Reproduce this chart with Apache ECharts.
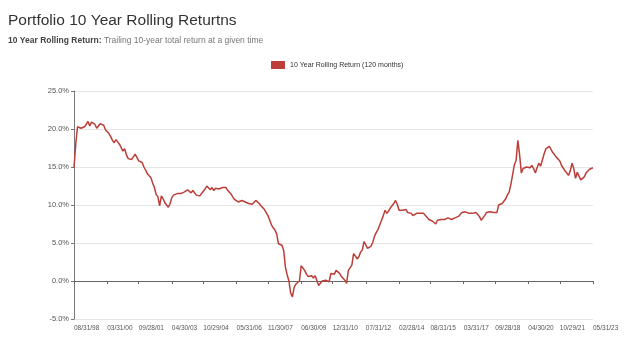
<!DOCTYPE html>
<html>
<head>
<meta charset="utf-8">
<script src="https://cdn.jsdelivr.net/npm/echarts@6/dist/echarts.min.js"></script>
<style>
html,body{margin:0;padding:0;background:#fff;}
#chart{width:630px;height:337px;}
</style>
</head>
<body>
<div id="chart"></div>
<script>
// Tick labels shown on the x axis
var tickLabels = ['08/31/98','03/31/00','09/28/01','04/30/03','10/29/04','05/31/06','11/30/07','06/30/09','12/31/10','07/31/12','02/28/14','08/31/15','03/31/17','09/28/18','04/30/20','10/29/21','05/31/23'];

// Y axis tick values (%)
var yTicks = [-5, 0, 5, 10, 15, 20, 25];

// 10 Year Rolling Return (%), monthly from 08/1998 to 05/2023
var rollingReturn = [
14.9,18.0,20.3,20.2,20.1,20.0,20.3,20.6,21.0,20.4,
20.9,21.0,20.6,20.1,20.2,20.7,20.8,20.5,19.9,20.1,
19.4,19.0,18.5,18.2,18.6,18.4,18.0,17.8,17.1,17.4,
16.6,16.1,16.0,16.0,16.0,16.7,16.5,15.8,15.7,15.6,
15.0,14.6,14.1,14.3,13.6,12.9,12.3,11.4,11.1,9.9,
11.2,10.8,10.3,10.0,9.7,10.2,11.0,11.3,11.4,11.5,
11.6,11.5,11.6,11.7,11.9,12.0,11.9,11.6,11.9,11.7,
11.3,11.2,11.2,11.4,11.8,12.1,12.5,12.4,12.0,12.3,
11.9,12.2,12.1,12.1,12.2,12.3,12.5,12.3,11.9,11.7,
11.4,11.0,10.7,10.5,10.4,10.4,10.6,10.5,10.4,10.3,
10.2,10.0,10.1,10.3,10.6,10.6,10.2,9.9,9.8,9.4,
9.0,8.6,8.0,7.4,7.0,6.7,6.2,4.9,5.1,4.7,
4.0,1.8,0.8,0.0,-1.6,-2.1,-0.8,-0.4,-0.3,0.0,
2.0,1.9,1.4,0.9,0.6,0.7,0.7,0.4,0.7,0.6,
-0.6,-0.3,0.0,-0.1,0.1,0.2,-0.1,1.0,0.8,0.9,
1.4,1.2,1.0,0.6,0.4,0.1,-0.3,1.4,1.6,2.1,
3.6,3.3,2.9,3.2,3.8,4.1,5.2,5.2,4.3,4.3,
4.6,5.1,5.9,6.4,6.8,7.4,8.0,8.6,9.3,8.9,
9.2,9.6,9.9,10.2,10.6,10.1,9.3,9.2,9.3,9.1,
9.4,9.0,8.9,8.9,8.6,8.7,8.9,8.9,8.9,8.9,
8.9,9.0,8.4,8.1,8.0,7.9,7.7,7.5,8.0,8.1,
8.1,8.0,8.1,8.0,8.3,8.4,8.1,8.2,8.3,8.5,
8.5,8.7,9.0,9.1,9.1,8.9,8.9,8.8,8.9,9.0,
9.0,9.0,8.5,8.0,8.2,8.6,9.0,9.1,9.1,9.0,
9.0,9.2,9.0,10.0,10.0,10.2,10.5,10.8,11.3,11.7,
12.7,14.0,15.3,15.9,18.5,16.6,14.2,14.8,14.8,15.0,
14.8,14.9,15.2,14.8,14.2,14.9,15.5,15.1,15.3,16.7,
17.4,17.2,17.7,17.5,16.9,16.8,16.3,16.3,15.8,15.2,
15.1,14.5,14.3,13.9,14.5,15.5,14.8,13.5,14.3,14.3,
13.3,13.2,13.7,14.2,14.3,14.7,14.8,14.9
];

// Month-end business dates, one per value
function pad(n){ return (n < 10 ? '0' : '') + n; }
var categories = [];
(function(){
  var y = 1998, m = 8;
  for (var i = 0; i < rollingReturn.length; i++) {
    var d = new Date(Date.UTC(y, m, 0));
    var wd = d.getUTCDay();
    if (wd === 6) d.setUTCDate(d.getUTCDate() - 1);
    if (wd === 0) d.setUTCDate(d.getUTCDate() - 2);
    categories.push(pad(d.getUTCMonth() + 1) + '/' + pad(d.getUTCDate()) + '/' + String(d.getUTCFullYear()).slice(2));
    m++; if (m > 12) { m = 1; y++; }
  }
})();

function isTick(idx, val){ return tickLabels.indexOf(val) >= 0; }

var lineColor = '#bb3e38';
var font = 'Liberation Sans, Arial, Helvetica, sans-serif';

var chart = echarts.init(document.getElementById('chart'), null, {renderer: 'canvas'});
chart.setOption({
  animation: false,
  backgroundColor: '#ffffff',
  textStyle: {fontFamily: font},
  title: [{
    text: 'Portfolio 10 Year Rolling Returtns',
    left: 8, top: 13, padding: 0,
    textStyle: {fontSize: 15.5, fontWeight: 'normal', color: '#333', fontFamily: font}
  }, {
    text: '{b|10 Year Rolling Return:} {n|Trailing 10-year total return at a given time}',
    left: 8, top: 36, padding: 0,
    textStyle: {
      fontFamily: font, fontWeight: 'normal', fontSize: 8.5,
      rich: {
        b: {fontSize: 8.5, fontWeight: 'bold', color: '#444', fontFamily: font},
        n: {fontSize: 8.5, fontWeight: 'normal', color: '#777', fontFamily: font}
      }
    }
  }],
  legend: {
    left: 266, top: 56,
    icon: 'rect', itemWidth: 14, itemHeight: 8, itemGap: 5,
    textStyle: {fontSize: 7, color: '#333', fontFamily: font},
    data: ['10 Year Rolling Return (120 months)']
  },
  grid: {left: 74, right: 37, top: 91, bottom: 18, containLabel: false},
  xAxis: [{
    type: 'category',
    data: categories,
    boundaryGap: false,
    axisLine: {onZero: true, lineStyle: {color: '#666', width: 1}},
    axisTick: {show: true, interval: isTick, length: 3, lineStyle: {color: '#666'}},
    axisLabel: {show: false},
    splitLine: {show: false}
  }, {
    type: 'category',
    data: categories,
    position: 'bottom',
    boundaryGap: false,
    axisLine: {show: false, onZero: false},
    axisTick: {show: false},
    axisLabel: {show: true, interval: isTick, fontSize: 6.5, color: '#555', margin: 6, align: 'left', fontFamily: font},
    splitLine: {show: false}
  }],
  yAxis: {
    type: 'value',
    min: yTicks[0], max: yTicks[yTicks.length - 1], interval: 5,
    axisLine: {show: true, lineStyle: {color: '#777'}},
    axisTick: {show: true, length: 3, lineStyle: {color: '#777'}},
    axisLabel: {fontSize: 7.5, color: '#555', margin: 5, formatter: function(v){ return v.toFixed(1) + '%'; }, fontFamily: font},
    splitLine: {lineStyle: {color: '#e6e6e6', width: 1}}
  },
  series: [{
    name: '10 Year Rolling Return (120 months)',
    type: 'line',
    xAxisIndex: 0,
    data: rollingReturn,
    showSymbol: false,
    symbol: 'none',
    lineStyle: {color: lineColor, width: 1.5},
    itemStyle: {color: lineColor}
  }]
});
</script>
</body>
</html>
